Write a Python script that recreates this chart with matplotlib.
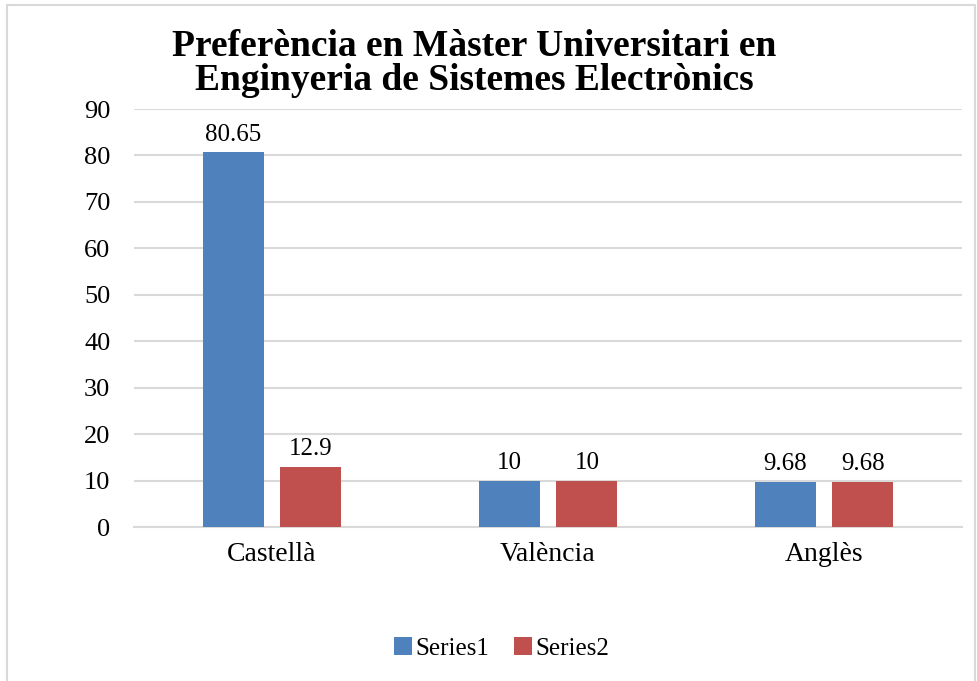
import matplotlib.pyplot as plt
from matplotlib.patches import Rectangle
import numpy as np

categories = ['Castellà', 'València', 'Anglès']
series1 = [80.65, 10, 9.68]
series2 = [12.9, 10, 9.68]
series_names = ['Series1', 'Series2']
label1 = ['80.65', '10', '9.68']
label2 = ['12.9', '10', '9.68']
title_text = 'Preferència en Màster Universitari en\nEnginyeria de Sistemes Electrònics'

plt.rcParams['font.family'] = ['Liberation Serif', 'DejaVu Serif']

fig = plt.figure(figsize=(9.78, 6.81), dpi=100)
ax = fig.add_axes([0.137, 0.2261, 0.8466, 0.6138])

x = np.arange(len(categories))
w = 0.221
off = 0.141
b1 = ax.bar(x - off, series1, w, color='#4F81BD', label=series_names[0], zorder=3)
b2 = ax.bar(x + off, series2, w, color='#C0504D', label=series_names[1], zorder=3)

for bars, labels in ((b1, label1), (b2, label2)):
    for rect, lab in zip(bars, labels):
        ax.annotate(lab, (rect.get_x() + rect.get_width() / 2, rect.get_height()),
                    xytext=(0, 5), textcoords='offset points',
                    ha='center', va='bottom', fontsize=18)

ax.set_xlim(-0.5, 2.5)
ax.set_ylim(0, 90)
ax.set_yticks(range(0, 91, 10))
ax.set_xticks(x)
ax.set_xticklabels(categories)
ax.tick_params(axis='y', length=0, pad=17, labelsize=19)
ax.tick_params(axis='x', length=0, pad=11, labelsize=20)
ax.grid(axis='y', color='#d9d9d9', linewidth=1.5, zorder=0)
for s in ('left', 'right', 'top'):
    ax.spines[s].set_visible(False)
ax.spines['bottom'].set_color('#d9d9d9')
ax.spines['bottom'].set_linewidth(1.5)

fig.text(0.485, 0.958, title_text, ha='center', va='top', fontsize=27,
         fontweight='bold', linespacing=0.98)

fig.legend(loc='center', bbox_to_anchor=(0.513, 0.048), ncol=2, frameon=False,
           fontsize=18, handlelength=0.7, handleheight=0.7, handletextpad=0.15,
           columnspacing=1.0)

fig.patches.append(Rectangle((0.007, -0.01), 0.99, 1.003, transform=fig.transFigure,
                             fill=False, edgecolor='#d9d9d9', linewidth=1.5))

fig.savefig('out.png', dpi=100)
